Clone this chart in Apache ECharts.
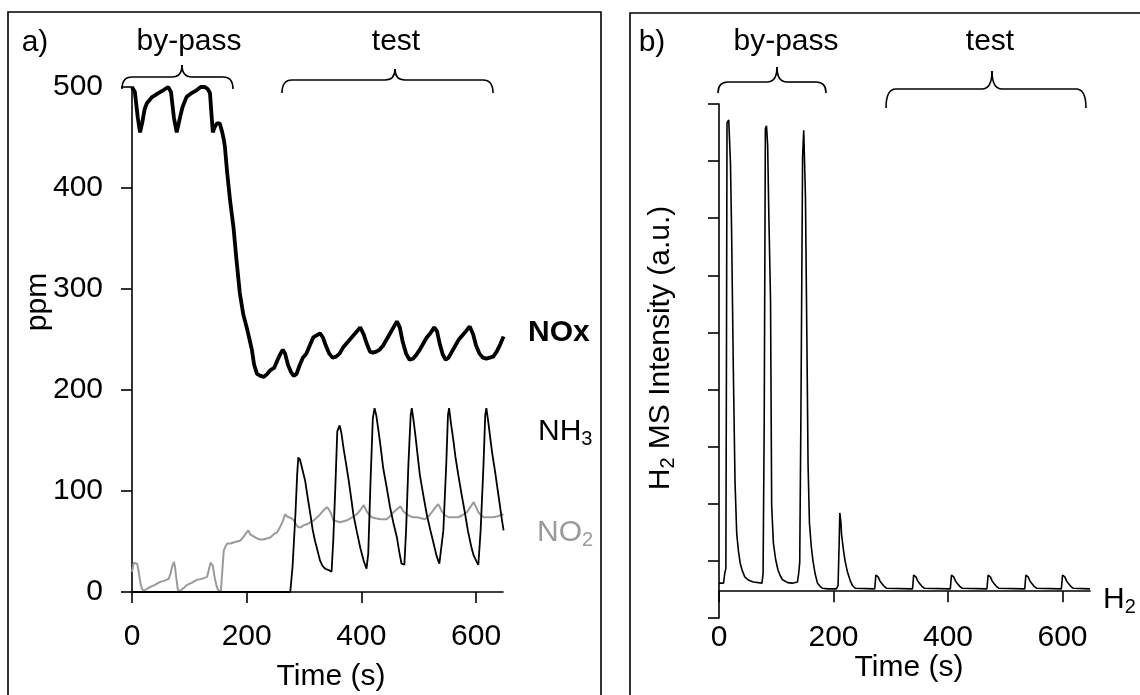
<!DOCTYPE html>
<html>
<head>
<meta charset="utf-8">
<script src="https://cdn.jsdelivr.net/npm/echarts@6/dist/echarts.min.js"></script>
<style>
html,body{margin:0;padding:0;background:#fff;}
#c{width:1140px;height:695px;}
</style>
</head>
<body>
<div id="c"></div>
<script>
// ---------- data ----------
const xTicks = [0, 200, 400, 600];
const ppmTicks = [0, 100, 200, 300, 400, 500];

// panel a: NOx (ppm) vs time (s)
const noxData = [[0,500],[5,495],[10,470],[14,455],[18,465],[22,478],[26,484],[35,490],[46,494],[55,497],[63,500],[68,495],[73,470],[78,455],[83,468],[88,480],[95,490],[104,494],[113,497],[120,500],[127,500],[132,498],[136,494],[139,470],[141,455],[144,460],[148,464],[153,464],[157,456],[160,448],[162,441],[166,415],[171,388],[177,361],[182,330],[188,296],[194,275],[200,262],[205,250],[209,240],[213,225],[218,216],[224,214],[230,213],[236,216],[242,220],[248,222],[254,230],[259,236],[263,240],[267,236],[272,225],[277,218],[282,214],[287,216],[292,224],[298,232],[304,236],[310,244],[316,252],[322,254],[328,256],[333,252],[338,244],[344,236],[350,232],[356,233],[362,236],[368,242],[374,246],[380,250],[386,254],[392,258],[398,262],[404,255],[410,245],[415,238],[420,237],[426,238],[432,240],[438,244],[444,250],[450,256],[456,262],[462,268],[467,262],[472,248],[478,236],[484,230],[490,231],[496,235],[502,240],[508,246],[514,252],[520,256],[527,262],[532,258],[537,245],[542,235],[547,230],[552,232],[558,238],[564,244],[570,250],[576,254],[582,258],[589,263],[595,255],[600,244],[606,236],[612,232],[618,231],[624,232],[630,233],[636,238],[642,245],[648,253]];

// panel a: NH3 (ppm)
const nh3Data = [[0,0],[276,0],[280,25],[285,77],[288,116],[290,133],[293,131],[296,124],[302,110],[306,95],[311,77],[315,62],[319,51],[324,40],[328,31],[332,26],[337,23],[342,22],[348,20],[351,51],[355,110],[358,159],[362,165],[365,158],[369,142],[373,128],[378,110],[382,94],[386,77],[392,60],[398,44],[404,31],[409,23],[412,38],[416,110],[420,172],[423,182],[426,175],[430,159],[434,142],[438,123],[444,104],[450,84],[456,68],[462,54],[466,40],[470,28],[475,27],[478,61],[482,126],[486,175],[488,182],[491,170],[494,156],[498,136],[502,116],[508,96],[514,77],[520,62],[526,48],[531,36],[536,28],[539,27],[543,61],[548,126],[551,175],[553,182],[556,168],[560,152],[564,134],[569,116],[575,96],[581,77],[586,60],[592,44],[596,36],[601,30],[604,27],[608,61],[613,126],[616,175],[618,182],[621,170],[624,156],[628,138],[633,120],[638,100],[642,84],[645,72],[648,61]];

// panel a: NO2 (ppm)
const no2Data = [[0,20],[3,29],[6,29],[9,28],[11,22],[13,15],[15,8],[17,4],[20,1],[26,3],[32,5],[40,7],[49,10],[56,11],[64,13],[67,18],[70,25],[73,30],[75,25],[77,15],[80,2],[84,1],[90,4],[96,7],[104,9],[113,12],[122,13],[131,15],[134,22],[137,29],[141,26],[143,18],[145,12],[148,5],[151,1],[155,1],[158,25],[160,41],[163,45],[166,48],[172,48],[177,49],[183,50],[189,51],[195,55],[200,59],[203,61],[206,57],[212,55],[218,53],[224,52],[229,52],[235,53],[241,54],[247,57],[253,59],[258,64],[263,70],[267,77],[270,75],[273,74],[278,73],[282,71],[286,67],[290,64],[295,64],[299,66],[305,67],[311,69],[317,71],[323,74],[327,76],[331,79],[336,82],[340,84],[343,82],[346,79],[349,75],[351,71],[357,70],[363,69],[369,70],[375,71],[381,73],[387,75],[392,77],[398,81],[404,86],[406,84],[409,80],[413,77],[418,74],[425,73],[433,72],[438,72],[444,72],[450,75],[456,79],[462,82],[468,85],[470,83],[473,80],[479,77],[485,75],[491,74],[497,74],[504,73],[511,72],[517,75],[523,79],[528,83],[534,87],[537,84],[540,80],[546,76],[552,74],[560,74],[569,74],[576,76],[584,79],[590,84],[596,89],[600,84],[604,79],[609,76],[613,74],[620,74],[630,74],[638,75],[648,77]];

// panel b: H2 MS intensity (a.u.)
const h2Data = [[0,0.14],[8,0.14],[10,0.31],[12,0.4],[13,4],[14,8.2],[17,8.25],[20,7.5],[22,6.3],[25,3.9],[28,1.9],[31,1.0],[34,0.7],[37,0.49],[41,0.35],[45,0.25],[52,0.19],[60,0.16],[75,0.14],[77,0.3],[79,3],[81,8.1],[83,8.15],[85,7.8],[87,6.6],[90,5.1],[92,1.5],[95,0.84],[99,0.55],[103,0.37],[107,0.27],[111,0.2],[120,0.15],[128,0.14],[137,0.16],[139,0.3],[141,0.5],[143,3],[146,7.6],[148,8.07],[149,8.07],[151,6.9],[154,3.9],[155.5,2.24],[158,1.19],[161,0.8],[164,0.54],[168,0.3],[172,0.14],[177,0.08],[181,0.05],[190,0.04],[205,0.04],[208,0.1],[210,0.9],[211,1.37],[212,1.4],[213,1.2],[214,1.0],[217,0.75],[220,0.54],[224,0.35],[229,0.19],[233,0.1],[238,0.05],[272,0.04],[274,0.28],[276,0.31],[278,0.25],[281,0.18],[284,0.14],[288,0.09],[293,0.05],[338,0.04],[340,0.28],[342,0.31],[344,0.25],[347,0.18],[350,0.14],[354,0.09],[359,0.05],[404,0.04],[406,0.28],[408,0.31],[410,0.25],[413,0.18],[416,0.14],[420,0.09],[425,0.05],[468,0.04],[470,0.28],[472,0.31],[474,0.25],[477,0.18],[480,0.14],[484,0.09],[489,0.05],[534,0.04],[536,0.28],[538,0.31],[540,0.25],[543,0.18],[546,0.14],[550,0.09],[555,0.05],[598,0.04],[600,0.28],[602,0.31],[604,0.25],[607,0.18],[610,0.14],[614,0.09],[619,0.05],[648,0.04]];

// ---------- chart ----------
const FONT = '"Liberation Sans", Arial, Helvetica, sans-serif';
const FS = 30;
const chart = echarts.init(document.getElementById('c'), null, {renderer: 'canvas'});

function brace(x1, x2, tip, yEnd, yArm, yTip) {
  const r = 10, r2 = 10;
  const ls = {stroke: '#000', lineWidth: 1.6, fill: null};
  return [
    {type: 'bezierCurve', shape: {x1: x1, y1: yEnd, cpx1: x1, cpy1: yArm, x2: x1 + r, y2: yArm}, style: ls},
    {type: 'line', shape: {x1: x1 + r, y1: yArm, x2: tip - r2, y2: yArm}, style: ls},
    {type: 'bezierCurve', shape: {x1: tip - r2, y1: yArm, cpx1: tip, cpy1: yArm, x2: tip, y2: yTip}, style: ls},
    {type: 'bezierCurve', shape: {x1: tip, y1: yTip, cpx1: tip, cpy1: yArm, x2: tip + r2, y2: yArm}, style: ls},
    {type: 'line', shape: {x1: tip + r2, y1: yArm, x2: x2 - r, y2: yArm}, style: ls},
    {type: 'bezierCurve', shape: {x1: x2 - r, y1: yArm, cpx1: x2, cpy1: yArm, x2: x2, y2: yEnd}, style: ls}
  ];
}
function txt(x, y, text, opts) {
  opts = opts || {};
  return {
    type: 'text', x: x, y: y, rotation: opts.rotation || 0, z: 10,
    style: Object.assign({
      text: text, fontFamily: FONT, fontSize: FS, fill: opts.fill || '#000',
      fontWeight: opts.bold ? 'bold' : 'normal',
      textAlign: opts.align || 'center', textVerticalAlign: 'middle'
    }, opts.rich ? {rich: opts.rich} : {})
  };
}
const subRich = (color) => ({
  m: {fontFamily: FONT, fontSize: FS, fill: color, color: color},
  s: {fontFamily: FONT, fontSize: 20, fill: color, color: color, padding: [14, 0, 0, 0]}
});

const axisCommonX = (grid, margin) => ({
  type: 'value', gridIndex: grid, min: 0, max: grid === 0 ? 647 : 648,
  splitLine: {show: false},
  axisLine: {lineStyle: {color: '#000', width: 1.6}},
  axisTick: {show: true, length: 11, lineStyle: {color: '#000', width: 1.6}, customValues: xTicks},
  axisLabel: {color: '#000', fontSize: FS, fontFamily: FONT, margin: margin, customValues: xTicks}
});

const option = {
  backgroundColor: '#fff',
  animation: false,
  grid: [
    {left: 132, top: 87, width: 371, height: 505},
    {left: 719, top: 104, width: 371, height: 514}
  ],
  xAxis: [
    Object.assign(axisCommonX(0, 30), {axisLine: {onZero: true, lineStyle: {color: '#000', width: 1.6}}}),
    Object.assign(axisCommonX(1, 5), {axisLine: {onZero: true, onZeroAxisIndex: 2, lineStyle: {color: '#000', width: 1.6}}})
  ],
  yAxis: [
    {type: 'value', gridIndex: 0, min: 0, max: 500, interval: 100,
     splitLine: {show: false},
     axisLine: {show: true, lineStyle: {color: '#000', width: 1.6}},
     axisTick: {show: true, length: 11, lineStyle: {color: '#000', width: 1.6}},
     axisLabel: {color: '#000', fontSize: FS, fontFamily: FONT, margin: 29}},
    {type: 'value', gridIndex: 1, min: 0, max: 9, interval: 1,
     splitLine: {show: false},
     axisLine: {show: true, lineStyle: {color: '#000', width: 1.6}},
     axisTick: {show: true, length: 11, lineStyle: {color: '#000', width: 1.6}},
     axisLabel: {show: false}},
    {type: 'value', gridIndex: 1, min: -0.47, max: 8.53, show: false,
     splitLine: {show: false}, axisLine: {show: false}, axisTick: {show: false}, axisLabel: {show: false}}
  ],
  series: [
    {name: 'NO2', type: 'line', xAxisIndex: 0, yAxisIndex: 0, data: no2Data, showSymbol: false,
     lineStyle: {color: '#9a9a9a', width: 2}, z: 2},
    {name: 'NH3', type: 'line', xAxisIndex: 0, yAxisIndex: 0, data: nh3Data, showSymbol: false,
     lineStyle: {color: '#000', width: 1.8}, z: 3},
    {name: 'NOx', type: 'line', xAxisIndex: 0, yAxisIndex: 0, data: noxData, showSymbol: false,
     lineStyle: {color: '#000', width: 3.8}, z: 4},
    {name: 'H2', type: 'line', xAxisIndex: 1, yAxisIndex: 2, data: h2Data, showSymbol: false,
     lineStyle: {color: '#000', width: 1.6}, z: 3}
  ],
  graphic: [].concat(
    [
      {type: 'rect', shape: {x: 8, y: 12, width: 593, height: 720}, style: {fill: null, stroke: '#000', lineWidth: 1.6}, z: 0},
      {type: 'rect', shape: {x: 630, y: 13, width: 540, height: 720}, style: {fill: null, stroke: '#000', lineWidth: 1.6}, z: 0},
      txt(35, 43, 'a)'),
      txt(189, 42, 'by-pass'),
      txt(396, 42, 'test'),
      txt(652, 43, 'b)'),
      txt(786, 42, 'by-pass'),
      txt(990, 42, 'test'),
      txt(38, 302, 'ppm', {rotation: Math.PI / 2}),
      txt(331, 677, 'Time (s)'),
      txt(909, 668, 'Time (s)'),
      txt(661, 348, '{m|H}{s|2}{m| MS Intensity (a.u.)}', {rotation: Math.PI / 2, rich: subRich('#000')}),
      txt(528, 333, 'NOx', {bold: true, align: 'left'}),
      txt(538, 432, '{m|NH}{s|3}', {align: 'left', rich: subRich('#000')}),
      txt(537, 533, '{m|NO}{s|2}', {align: 'left', fill: '#9a9a9a', rich: subRich('#9a9a9a')}),
      txt(1103, 600, '{m|H}{s|2}', {align: 'left', rich: subRich('#000')})
    ],
    brace(122, 233, 182, 89, 77, 65),
    brace(282, 493, 395, 93, 80, 69),
    brace(718, 826, 777, 93, 82, 67),
    brace(886, 1086, 992, 108, 89, 71)
  )
};
chart.setOption(option);
</script>
</body>
</html>
